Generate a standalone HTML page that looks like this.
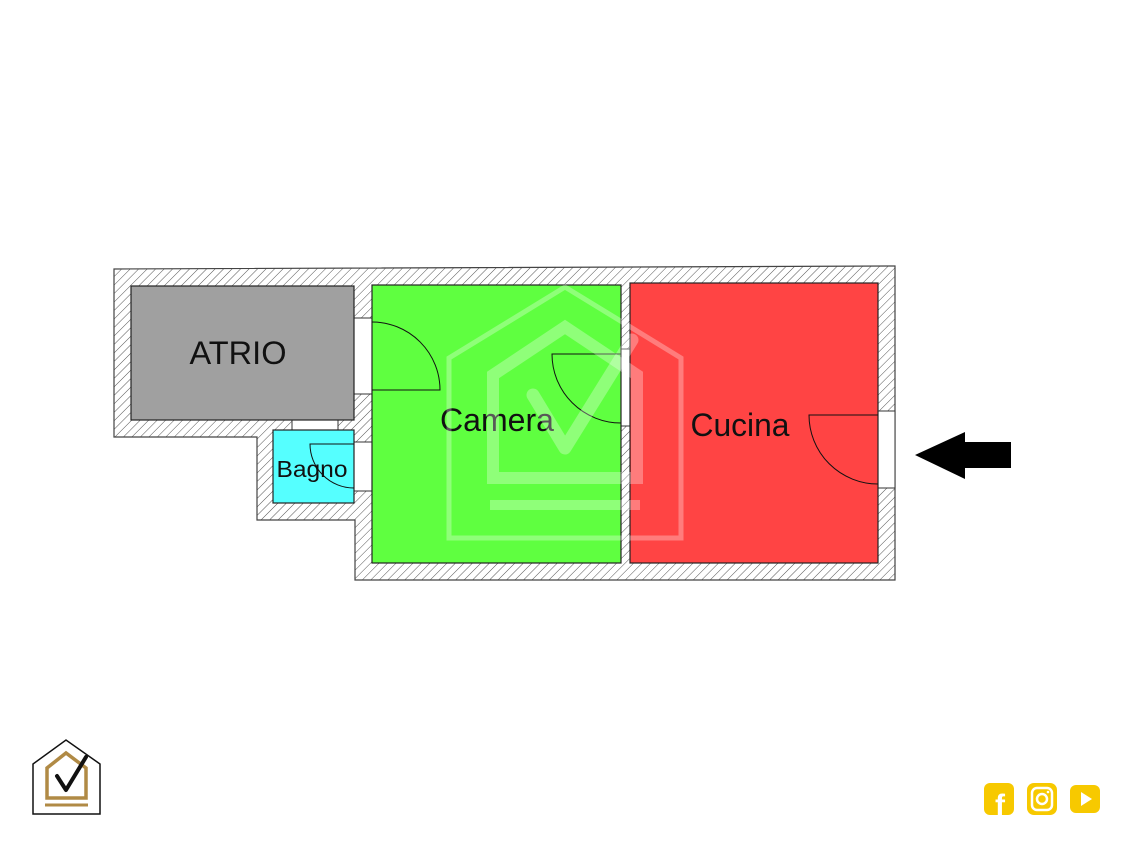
<!DOCTYPE html>
<html><head><style>html,body{margin:0;padding:0;background:#fff;width:1133px;height:850px;overflow:hidden}</style></head>
<body>
<svg width="1133" height="850" xmlns="http://www.w3.org/2000/svg" font-family="Liberation Sans, DejaVu Sans, sans-serif">
<defs>
<pattern id="h" width="6" height="6" patternUnits="userSpaceOnUse" patternTransform="rotate(45)">
<rect width="6" height="6" fill="#fff"/><line x1="0" y1="0" x2="0" y2="6" stroke="#555" stroke-width="1"/>
</pattern>
</defs>
<polygon points="114,269 895,266 895,580 355,580 355,520 257,520 257,437 114,437" fill="url(#h)" stroke="#444" stroke-width="1.2"/>
<rect x="354" y="318" width="18" height="76" fill="#fff" stroke="#333" stroke-width="1"/>
<rect x="354" y="442" width="18" height="49" fill="#fff" stroke="#333" stroke-width="1"/>
<rect x="292" y="420" width="46" height="10" fill="#fff" stroke="#333" stroke-width="1"/>
<rect x="621" y="349" width="9" height="77" fill="#fff" stroke="#333" stroke-width="1"/>
<rect x="878" y="411" width="17" height="77" fill="#fff" stroke="#333" stroke-width="1"/>
<rect x="131" y="286" width="223" height="134" fill="#a0a0a0" stroke="#222" stroke-width="1.2"/>
<rect x="372" y="285" width="249" height="278" fill="#5fff40" stroke="#222" stroke-width="1.2"/>
<rect x="630" y="283" width="248" height="280" fill="#ff4444" stroke="#222" stroke-width="1.2"/>
<rect x="273" y="430" width="81" height="73" fill="#55ffff" stroke="#222" stroke-width="1.2"/>
<g fill="none" stroke="#111" stroke-width="1">
<path d="M372,390 L440,390 A68,68 0 0 0 372,322"/>
<path d="M354,444 L310,444 A44,44 0 0 0 354,488"/>
<path d="M621,354 L552,354 A69,69 0 0 0 621,423"/>
<path d="M878,415 L809,415 A69,69 0 0 0 878,484"/>
</g>
<text x="238" y="364" font-size="32" text-anchor="middle" fill="#111" textLength="97" lengthAdjust="spacingAndGlyphs">ATRIO</text>
<text x="497" y="431" font-size="32" text-anchor="middle" fill="#111" textLength="114" lengthAdjust="spacingAndGlyphs">Camera</text>
<text x="740" y="436" font-size="32" text-anchor="middle" fill="#111" textLength="99" lengthAdjust="spacingAndGlyphs">Cucina</text>
<text x="312" y="477" font-size="23" text-anchor="middle" fill="#111" textLength="71" lengthAdjust="spacingAndGlyphs">Bagno</text>
<g fill="none" stroke="#fff" stroke-opacity="0.3">
<path d="M449,538 L449,358 L565,287 L681,358 L681,538 Z" stroke-width="5"/>
<path d="M493,478 L493,375 L565,327 L637,375 L637,478 Z" stroke-width="12"/>
<line x1="490" y1="505" x2="640" y2="505" stroke-width="10"/>
<path d="M533,395 L565,448 L632,340" stroke-width="13" stroke-linecap="round" stroke-linejoin="round"/>
</g>
<polygon points="915,455 965,432 965,442 1011,442 1011,468 965,468 965,479" fill="#000"/>
<path d="M33,814 L33,764 L66,740 L100,764 L100,814 Z" fill="#fff" stroke="#111" stroke-width="1.5"/>
<path d="M47,798 L47,768 L66,753 L86,768 L86,798 Z" fill="none" stroke="#b08a45" stroke-width="3.5"/>
<line x1="45" y1="805" x2="88" y2="805" stroke="#b08a45" stroke-width="3"/>
<path d="M57,776 L66,790 L86,757" fill="none" stroke="#111" stroke-width="4" stroke-linecap="round" stroke-linejoin="round"/>
<rect x="984" y="783" width="30" height="32" rx="6" fill="#f7c900"/>
<text x="1000" y="815" font-size="30" font-weight="bold" fill="#fff" text-anchor="middle">f</text>
<rect x="1027" y="783" width="30" height="32" rx="7" fill="#f7c900"/>
<rect x="1032" y="788" width="20" height="22" rx="5" fill="none" stroke="#fff" stroke-width="2.5"/>
<circle cx="1042" cy="799" r="5" fill="none" stroke="#fff" stroke-width="2.5"/>
<circle cx="1048" cy="792" r="1.3" fill="#fff"/>
<rect x="1070" y="785" width="30" height="28" rx="6" fill="#f7c900"/>
<polygon points="1081,792 1081,806 1092,799" fill="#fff"/>
</svg>
</body></html>
